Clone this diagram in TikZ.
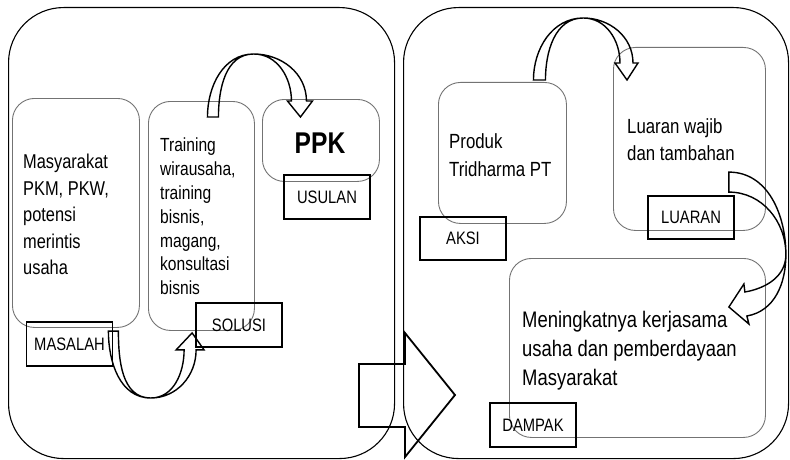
\documentclass[tikz,border=0pt]{standalone}
\usepackage{fontspec}
\setmainfont{Liberation Sans}[FakeStretch=0.82]
\usetikzlibrary{calc}

\begin{document}
\begin{tikzpicture}[x=1pt,y=1pt,
        panel/.style={draw, line width=1.1pt, rounded corners=55pt, anchor=north west, inner sep=0pt},
        softbox/.style={draw=black!55, line width=0.9pt, rounded corners=22pt, anchor=north west, inner sep=0pt},
        tag/.style={draw, line width=1.8pt, minimum width=86pt, minimum height=44pt, inner sep=0pt, font=\fontsize{18}{20}\selectfont},
        bodytext/.style={anchor=north west, inner sep=0pt, align=left},
        bentarrow/.style={draw, line width=1.4pt, line join=miter}]
        \useasboundingbox (0,0) rectangle (790,459);
        % Two panels
        \node[panel, minimum width=386pt, minimum height=451pt] (leftpanel) at (8,452) {};
        \node[panel, minimum width=385pt, minimum height=451pt] (rightpanel) at (403,452) {};
        % Left panel boxes
        \node[softbox, minimum width=127pt, minimum height=229pt] (masalahbox) at (12,361) {};
        \node[softbox, minimum width=106pt, minimum height=229pt] (solusibox) at (148,358) {};
        \node[softbox, minimum width=117pt, minimum height=82pt] (usulanbox) at (262,360) {};
        \node[bodytext, font=\fontsize{20}{26.5}\selectfont] (masalahtext) at (23,305) {Masyarakat\\PKM, PKW,\\potensi\\merintis\\usaha};
        \node[bodytext, font=\fontsize{19}{23.8}\selectfont] (solusitext) at (160,321) {Training\\wirausaha,\\training\\bisnis,\\magang,\\konsultasi\\bisnis};
        \node[anchor=base, inner sep=0pt, font=\fontsize{30}{32}\selectfont\bfseries] (ppk) at (320,306) {PPK};
        \node[tag] (masalahtag) at (69.5,115) {MASALAH};
        \node[tag] (solusitag) at (239,134) {SOLUSI};
        \node[tag] (usulantag) at (327,262) {USULAN};
        % Right panel boxes
        \node[softbox, minimum width=128pt, minimum height=141pt] (aksibox) at (438,377) {};
        \node[softbox, minimum width=152pt, minimum height=183pt] (luaranbox) at (613,412) {};
        \node[softbox, minimum width=256pt, minimum height=179pt] (dampakbox) at (509,201) {};
        \node[bodytext, font=\fontsize{20.5}{28}\selectfont] (aksitext) at (449,326) {Produk\\Tridharma PT};
        \node[bodytext, font=\fontsize{20.5}{27}\selectfont] (luarantext) at (627,341) {Luaran wajib\\dan tambahan};
        \node[bodytext, font=\fontsize{22.5}{29}\selectfont] (dampaktext) at (522,148) {Meningkatnya kerjasama\\usaha dan pemberdayaan\\Masyarakat};
        \node[tag, minimum height=43pt] (aksitag) at (463,220.5) {AKSI};
        \node[tag, minimum height=43pt] (luarantag) at (691,241.5) {LUARAN};
        \node[tag] (dampaktag) at (533,34) {DAMPAK};
        % Curved arrows
        \coordinate (s1) at ($(masalahtag.north east)+(0,-10)$);
        \coordinate (t1) at ($(solusitag.south west)+(-3,15)$);
        \coordinate (b1) at ($(s1)!.5!(t1)+(-2,-66)$);
        \draw[bentarrow] ($(s1)+(-5,0)$) to[out=-90,in=180] (b1) to[out=0,in=-90] ($(t1)+(4,-17)$) -- ($(t1)+(12,-17)$) -- (t1) -- ($(t1)+(-16,-17)$) -- ($(t1)+(-8,-17)$) to[out=-90,in=0] (b1) to[out=180,in=-90] ($(s1)+(5,0)$) -- cycle;
        \coordinate (s2) at ($(solusibox.north)+(11.5,-16)$);
        \coordinate (t2) at ($(usulanbox.north)+(-20.5,-18)$);
        \coordinate (b2) at ($(s2)!.5!(t2)+(-3,63)$);
        \draw[bentarrow] ($(s2)+(-5.5,0)$) to[out=90,in=180] (b2) to[out=0,in=90] ($(t2)+(6,16)$) -- ($(t2)+(12,16)$) -- (t2) -- ($(t2)+(-13,16)$) -- ($(t2)+(-9,16)$) to[out=90,in=0] (b2) to[out=180,in=90] ($(s2)+(5.5,0)$) -- cycle;
        \coordinate (s3) at ($(aksibox.north)+(37,2)$);
        \coordinate (t3) at ($(luaranbox.north west)+(14,-33)$);
        \coordinate (b3) at ($(s3)!.5!(t3)+(0,62)$);
        \draw[bentarrow] ($(s3)+(-6,0)$) to[out=90,in=180] (b3) to[out=0,in=90] ($(t3)+(6,17)$) -- ($(t3)+(11,17)$) -- (t3) -- ($(t3)+(-12,17)$) -- ($(t3)+(-7,17)$) to[out=90,in=0] (b3) to[out=180,in=90] ($(s3)+(6,0)$) -- cycle;
        \coordinate (s4) at ($(luarantag.north east)+(-6,13)$);
        \coordinate (t4) at ($(dampakbox.north east)+(-37,-49)$);
        \coordinate (b4) at ($(s4)!.5!(t4)+(57,-10)$);
        \draw[bentarrow] ($(s4)+(0,10)$) to[out=0,in=90] (b4) to[out=-90,in=10] ($(t4)+(18,-9)$) -- ($(t4)+(20,-17)$) -- (t4) -- ($(t4)+(15,23)$) -- ($(t4)+(16,15)$) to[out=10,in=-90] (b4) to[out=90,in=0] ($(s4)+(0,-10)$) -- cycle;
        % Big arrow between panels
        \draw[line width=1.8pt, line join=miter] (359,95) -- (405,95) -- (405,126) -- (455,64) -- (405,2) -- (405,32) -- (359,32) -- cycle;
    \end{tikzpicture}
\end{document}
